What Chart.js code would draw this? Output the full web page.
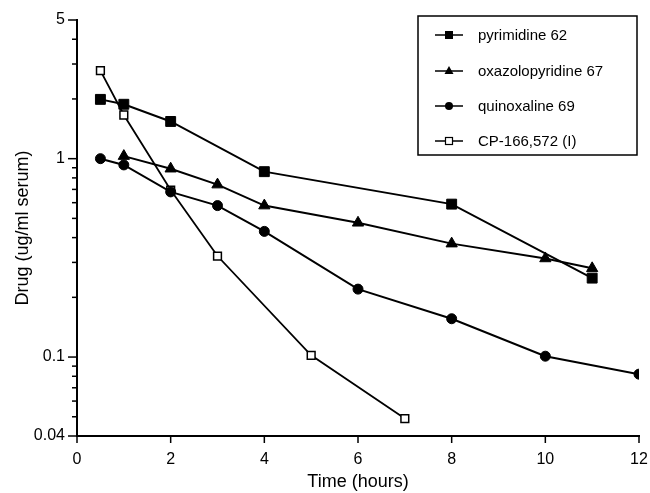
<!DOCTYPE html>
<html>
<head>
<meta charset="utf-8">
<script src="https://cdn.jsdelivr.net/npm/chart.js@4/dist/chart.umd.min.js"></script>
<style>
  html, body { margin: 0; padding: 0; background: #fff; }
  #wrap { width: 650px; height: 493px; }
</style>
</head>
<body>
<div id="wrap"><canvas id="drug"></canvas></div>
<script>
// series values
const pyrTime = [0.5, 1, 2, 4, 8, 11]
const pyrVal = [1.99, 1.88, 1.54, 0.86, 0.59, 0.25]
const oxaTime = [1, 2, 3, 4, 6, 8, 10, 11]
const oxaVal = [1.03, 0.89, 0.74, 0.58, 0.475, 0.373, 0.314, 0.28]
const quiTime = [0.5, 1, 2, 3, 4, 6, 8, 10, 12]
const quiVal = [1.0, 0.93, 0.68, 0.58, 0.43, 0.22, 0.156, 0.101, 0.082]
const cpTime = [0.5, 1, 2, 3, 5, 7]
const cpVal = [2.78, 1.66, 0.695, 0.323, 0.102, 0.049]

const seriesNames = ['pyrimidine 62', 'oxazolopyridine 67', 'quinoxaline 69', 'CP-166,572 (I)']
const yTicks = [0.04, 0.05, 0.06, 0.07, 0.08, 0.09, 0.1, 0.2, 0.3, 0.4, 0.5, 0.6, 0.7, 0.8, 0.9, 1, 2, 3, 4, 5]
const yLabels = [0.04, 0.1, 1, 5]

const FONT = 'Liberation Sans, Arial, Helvetica, sans-serif'

function pts(xs, ys) {
    return xs.map((x, i) => ({ x: x, y: ys[i] }))
}

// outward ticks on both axes, short ones for the minor log ticks
const tickMarks = {
    id: 'tickMarks',
    afterDraw(chart) {
        const ctx = chart.ctx
        const xs = chart.scales.x
        const ys = chart.scales.y
        ctx.save()
        ctx.strokeStyle = '#000'
        ctx.lineWidth = 1.5
        ys.ticks.forEach(t => {
            const py = ys.getPixelForValue(t.value)
            const len = yLabels.includes(t.value) ? 9 : 5
            ctx.beginPath()
            ctx.moveTo(ys.right - len, py)
            ctx.lineTo(ys.right, py)
            ctx.stroke()
        })
        xs.ticks.forEach(t => {
            const px = xs.getPixelForValue(t.value)
            ctx.beginPath()
            ctx.moveTo(px, xs.top)
            ctx.lineTo(px, xs.top + 7)
            ctx.stroke()
        })
        ctx.restore()
    }
}

// boxed legend with line + marker like the original
const boxLegend = {
    id: 'boxLegend',
    afterDraw(chart) {
        const ctx = chart.ctx
        ctx.save()
        ctx.strokeStyle = '#000'
        ctx.fillStyle = '#fff'
        ctx.lineWidth = 1.5
        ctx.fillRect(418, 16, 219, 139)
        ctx.strokeRect(418, 16, 219, 139)
        const rows = [35, 71, 106, 141]
        chart.data.datasets.forEach((ds, i) => {
            const y = rows[i]
            ctx.lineWidth = 1.5
            ctx.strokeStyle = '#000'
            ctx.beginPath()
            ctx.moveTo(435, y)
            ctx.lineTo(463, y)
            ctx.stroke()
            const cx = 449
            ctx.fillStyle = '#000'
            ctx.beginPath()
            if (ds.pointStyle === 'rect' && ds.pointBackgroundColor === '#000') {
                ctx.fillRect(cx - 4, y - 4, 8, 8)
            } else if (ds.pointStyle === 'triangle') {
                ctx.moveTo(cx, y - 5)
                ctx.lineTo(cx + 4.5, y + 3)
                ctx.lineTo(cx - 4.5, y + 3)
                ctx.closePath()
                ctx.fill()
            } else if (ds.pointStyle === 'circle') {
                ctx.arc(cx, y, 4, 0, Math.PI * 2)
                ctx.fill()
            } else {
                ctx.fillStyle = '#fff'
                ctx.fillRect(cx - 3.5, y - 3.5, 7, 7)
                ctx.lineWidth = 1.2
                ctx.strokeRect(cx - 3.5, y - 3.5, 7, 7)
            }
            ctx.fillStyle = '#000'
            ctx.font = '15px ' + FONT
            ctx.textBaseline = 'middle'
            ctx.textAlign = 'left'
            ctx.fillText(seriesNames[i], 478, y + 1)
        })
        ctx.restore()
    }
}

const drugChart = document.getElementById('drug').getContext('2d')
const drug = new Chart(drugChart, {
    type: 'line',
    data: {
        datasets: [{
            label: seriesNames[0],
            data: pts(pyrTime, pyrVal),
            borderColor: '#000',
            borderWidth: 2,
            pointStyle: 'rect',
            pointRadius: 7,
            pointBackgroundColor: '#000',
            pointBorderColor: '#000',
            pointBorderWidth: 1
        }, {
            label: seriesNames[1],
            data: pts(oxaTime, oxaVal),
            borderColor: '#000',
            borderWidth: 2,
            pointStyle: 'triangle',
            pointRadius: 6.5,
            pointBackgroundColor: '#000',
            pointBorderColor: '#000',
            pointBorderWidth: 1
        }, {
            label: seriesNames[2],
            data: pts(quiTime, quiVal),
            borderColor: '#000',
            borderWidth: 2,
            pointStyle: 'circle',
            pointRadius: 5,
            pointBackgroundColor: '#000',
            pointBorderColor: '#000',
            pointBorderWidth: 1
        }, {
            label: seriesNames[3],
            data: pts(cpTime, cpVal),
            borderColor: '#000',
            borderWidth: 1.8,
            pointStyle: 'rect',
            pointRadius: 5.5,
            pointBackgroundColor: '#fff',
            pointBorderColor: '#000',
            pointBorderWidth: 1.5
        }]
    },
    options: {
        responsive: true,
        maintainAspectRatio: false,
        animation: false,
        layout: {
            autoPadding: false,
            padding: { top: 20, right: 11, left: 0, bottom: 0 }
        },
        elements: {
            line: { tension: 0 }
        },
        scales: {
            x: {
                type: 'linear',
                min: 0,
                max: 12,
                afterFit: s => { s.height = 57; s.paddingLeft = 0; s.paddingRight = 0 },
                grid: { display: false, drawTicks: false },
                border: { color: '#000', width: 2 },
                ticks: {
                    stepSize: 2,
                    color: '#000',
                    padding: 14,
                    font: { family: FONT, size: 16 }
                },
                title: {
                    display: true,
                    text: 'Time (hours)',
                    color: '#000',
                    padding: { top: 0, bottom: 0 },
                    font: { family: FONT, size: 18 }
                }
            },
            y: {
                type: 'logarithmic',
                min: 0.04,
                max: 5,
                afterFit: s => { s.width = 77; s.paddingTop = 0; s.paddingBottom = 0 },
                afterBuildTicks: s => { s.ticks = yTicks.map(v => ({ value: v })) },
                grid: { display: false, drawTicks: false },
                border: { color: '#000', width: 2 },
                ticks: {
                    color: '#000',
                    padding: 12,
                    autoSkip: false,
                    font: { family: FONT, size: 16 },
                    callback: v => yLabels.includes(v) ? String(v) : ''
                },
                title: {
                    display: true,
                    text: 'Drug (ug/ml serum)',
                    color: '#000',
                    padding: { top: 12, bottom: 0 },
                    font: { family: FONT, size: 18 }
                }
            }
        },
        plugins: {
            legend: { display: false },
            tooltip: { enabled: false }
        }
    },
    plugins: [tickMarks, boxLegend]
})
</script>
</body>
</html>
